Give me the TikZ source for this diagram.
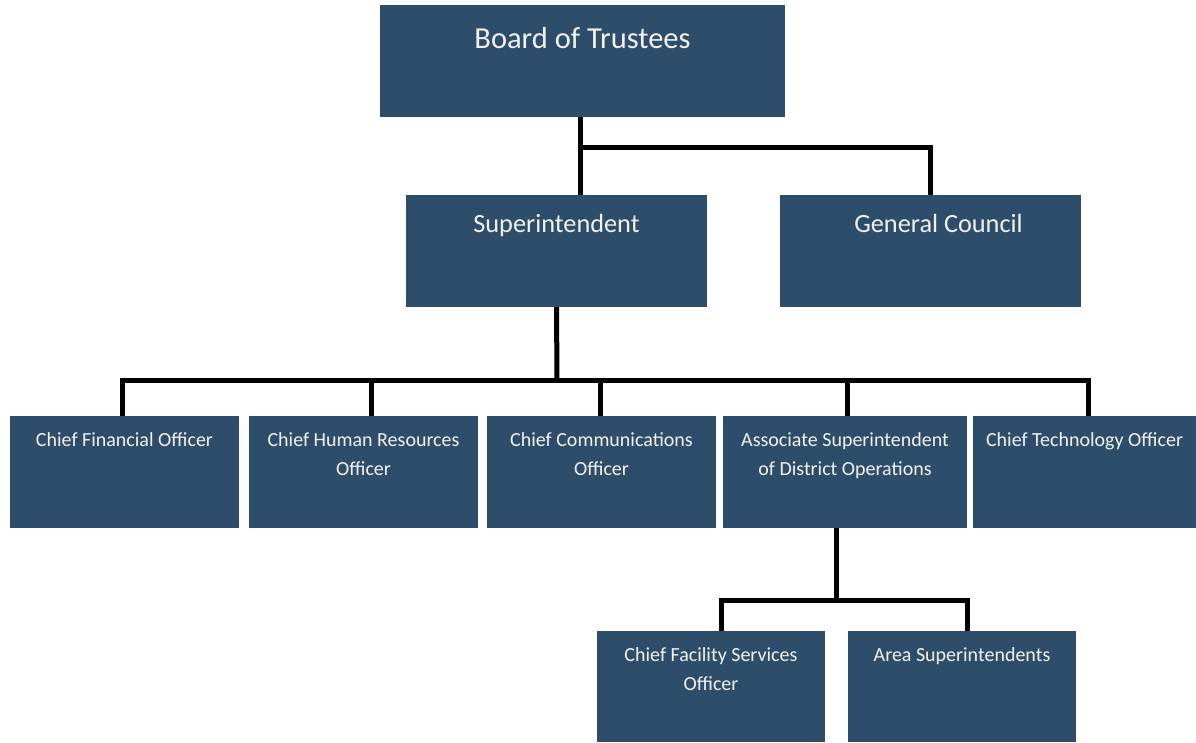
\documentclass[tikz,border=0pt]{standalone}
\usepackage{fontspec}
\setmainfont{Carlito}
\usepackage{xcolor}
\definecolor{boxblue}{RGB}{46,77,107}
\definecolor{boxtext}{RGB}{242,242,242}

\begin{document}
\begin{tikzpicture}[x=1pt,y=-1pt,
  box/.style={draw=none, fill=boxblue, minimum height=112pt, inner sep=0pt},
  big/.style={font=\fontsize{30.5}{36}\selectfont, text=boxtext, anchor=north, inner sep=0pt, yshift=-22pt},
  mid/.style={font=\fontsize{26.3}{31}\selectfont, text=boxtext, anchor=north, inner sep=0pt, yshift=-19pt},
  small/.style={font=\fontsize{20}{29}\selectfont, text=boxtext, anchor=north, inner sep=0pt, yshift=-17pt, align=center},
  conn/.style={draw=black, line width=5pt}]

\useasboundingbox (0,0) rectangle (1196,742);

% top
\node[box, minimum width=405pt, label={[big]north:Board of Trustees}] (trustees) at (582.5,61) {};
\node[box, minimum width=301pt, label={[mid]north:Superintendent}] (super) at (556.5,251) {};
\node[box, minimum width=301pt, label={[mid, xshift=8pt]north:General Council}] (council) at (930.5,251) {};

% second row
\node[box, minimum width=229pt, label={[small]north:Chief Financial Officer}] (cfo) at (124.5,472) {};
\node[box, minimum width=229pt, label={[small]north:Chief Human Resources\\Officer}] (chro) at (363.5,472) {};
\node[box, minimum width=229pt, label={[small]north:Chief Communications\\Officer}] (cco) at (601.5,472) {};
\node[box, minimum width=244pt, label={[small]north:Associate Superintendent\\of District Operations}] (asdo) at (845,472) {};
\node[box, minimum width=223pt, label={[small]north:Chief Technology Officer}] (cto) at (1084.5,472) {};

% third row
\node[box, minimum width=228pt, minimum height=111pt, label={[small]north:Chief Facility Services\\Officer}] (cfso) at (711,686.5) {};
\node[box, minimum width=228pt, minimum height=111pt, label={[small]north:Area Superintendents}] (area) at (962,686.5) {};

\coordinate (bus1) at (580,147);
\coordinate (bus2) at (557,380);
\coordinate (bus3) at (836,600);

\draw[conn] ([xshift=-2pt]trustees.south) -- ([xshift=-2pt]trustees.south |- super.north);
\draw[conn] ([xshift=-2pt]trustees.south |- bus1) -| (council.north);

\draw[conn] (super.south) -- (bus2);
\draw[conn] ([xshift=-2pt]cfo.north) |- (bus2) -| ([xshift=4pt]cto.north);
\draw[conn] ([xshift=8pt]chro.north) -- ([xshift=8pt]chro.north |- bus2);
\draw[conn] ([xshift=-1pt]cco.north) -- ([xshift=-1pt]cco.north |- bus2);
\draw[conn] ([xshift=2pt]asdo.north) -- ([xshift=2pt]asdo.north |- bus2);

\draw[conn] (asdo.south -| bus3) -- (bus3);
\draw[conn] ([xshift=10pt]cfso.north) |- (bus3) -| ([xshift=5pt]area.north);

\end{tikzpicture}
\end{document}
